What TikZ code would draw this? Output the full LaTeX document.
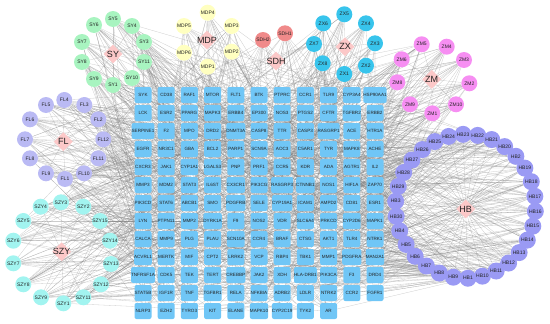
\documentclass[tikz,border=0pt]{standalone}
\usepackage{fontspec}
\setmainfont{Liberation Sans}
\usetikzlibrary{shapes.geometric}
\pgfdeclarelayer{bg}
\pgfsetlayers{bg,main}
\definecolor{tgtc}{HTML}{70C6F6}
\definecolor{syc}{HTML}{A8F4C0}
\definecolor{mdpc}{HTML}{FFFFC0}
\definecolor{sdhc}{HTML}{F08A8A}
\definecolor{zxc}{HTML}{38C4EC}
\definecolor{zmc}{HTML}{F68EF2}
\definecolor{flc}{HTML}{BABAF4}
\definecolor{szyc}{HTML}{A2F4F0}
\definecolor{hbc}{HTML}{9A9AF4}
\definecolor{herbc}{HTML}{FCC8C8}
\definecolor{txtc}{HTML}{222222}
\newcommand\herbedges[2]{%
  \foreach \m in {#2} {%
    \draw[link] (#1) -- (#1\m);
    \foreach \r in {1,...,14} {%
      \pgfmathrandominteger{\tg}{0}{140}%
      \draw[link] (#1\m) -- (g\tg);
    }%
  }%
}
\begin{document}
\begin{tikzpicture}[x=1pt,y=-1pt,
  tgt/.style={rectangle,rounded corners=2pt,fill=tgtc,minimum width=17pt,minimum height=16pt,inner sep=0pt,font=\fontsize{4.6}{5}\selectfont,text=txtc},
  ing/.style={circle,minimum size=16pt,inner sep=0pt,font=\fontsize{5}{5}\selectfont,text=txtc},
  hbn/.style={ing,fill=hbc,minimum size=17pt},
  herb/.style={diamond,fill=herbc,minimum size=19pt,inner sep=0pt},
  herblabel/.style={font=\fontsize{9}{9}\selectfont,text=txtc,inner sep=0pt},
  link/.style={draw=gray,opacity=0.4,line width=0.3pt}]
\useasboundingbox (0,0) rectangle (550,324);
% ---------- targets grid ----------
\foreach \row [count=\j from 0] in {
 {SYK,CD38,RAF1,MTOR,FLT1,BTK,PTPRC,CCR1,TLR9,CYP3A4,HSP90AA1},
 {LCK,ESR2,PPARG,MAPK3,ERBB4,EP300,NOS3,PTGS2,CFTR,TGFBR2,ERBB2},
 {SERPINE1,F2,MPO,DRD2,DNMT3A,CASP8,TTR,CASP3,RASGRP1,ACE,HTR1A},
 {EGFR,NR3C1,GBA,BCL2,PARP1,SCN9A,AOC3,C5AR1,TYR,MAPK8,ACHE},
 {CXCR3,JAK1,CYP1A1,LGALS3,PNP,PRF1,CCR5,KDR,ADA,AGTR1,IL2},
 {MMP3,MDM2,STAT3,IL6ST,CX3CR1,PIK3CG,RASGRP3,CTNNB1,NOS1,HIF1A,ZAP70},
 {PIK3CD,STAT6,ABCB1,SMO,PDGFRB,SELE,CYP19A1,ICAM1,AMPD2,CD81,ESR1},
 {LYN,PTPN11,MMP2,DYRK1A,F9,NOS2,VDR,SLC6A4,PRKCD,CYP2D6,MAPK1},
 {CALCA,MMP9,PLG,PLAU,SCN10A,CCR4,BRAF,CTSG,AKT1,TLR4,NTRK1},
 {ACVRL1,MERTK,MIF,CPT2,LRRK2,VCP,RBP4,TBK1,MMP1,PDGFRA,MAN2A1},
 {TNFRSF1A,CDK5,TEK,TERT,CREBBP,JAK2,XDH,HLA-DRB1,PIK3CA,F3,DRD4},
 {STAT5B,IGF1R,TNF,TGFBR1,RELA,NFKBIA,ADRB2,LDLR,NTRK2,CCR2,FGFR1},
 {NLRP3,EZH2,TYRO3,KIT,ELANE,MAPK10,CYP2C19,TYK2,AR}} {
  \foreach \nm [count=\i from 0] in \row {
    \pgfmathtruncatemacro\k{\j*11+\i}
    \node[tgt] (g\k) at ({143+23.2*\i},{95+18*\j}) {\nm};
  }
}
% ---------- SY ----------
\node[herb] (SY) at (113,54) {}; \node[herblabel] at (SY) {SY};
\foreach \n/\x/\y in {1/113/85,3/144/42,4/132/26,5/113/19,6/94/25,7/82/42,8/82/62,9/94/79,10/132/78,11/144/62}
  \node[ing,fill=syc] (SY\n) at (\x,\y) {SY\n};
% ---------- MDP ----------
\node[herb] (MDP) at (207,40) {}; \node[herblabel] at (MDP) {MDP};
\foreach \n/\x/\y in {1/207.7/66.7,2/231.7/51.7,3/231.7/26,4/207.7/12.7,5/184/26,6/184/52.7}
  \node[ing,fill=mdpc] (MDP\n) at (\x,\y) {MDP\n};
% ---------- SDH ----------
\node[herb] (SDH) at (276,61) {}; \node[herblabel] at (SDH) {SDH};
\node[ing,fill=sdhc] (SDH1) at (285,33.3) {SDH1};
\node[ing,fill=sdhc] (SDH2) at (263,40) {SDH2};
% ---------- ZX ----------
\node[herb] (ZX) at (345,46.7) {}; \node[herblabel] at (ZX) {ZX};
\foreach \n/\x/\y in {1/344.3/74,2/366/65.7,3/375/43.3,4/366/23.3,5/344.3/14.3,6/323.3/23.3,7/314/44,8/322.7/63.3}
  \node[ing,fill=zxc] (ZX\n) at (\x,\y) {ZX\n};
% ---------- ZM ----------
\node[herb] (ZM) at (431.7,79.3) {}; \node[herblabel] at (ZM) {ZM};
\foreach \n/\x/\y in {1/432.3/113.3,2/469.3/83.3,3/464/60,4/446.7/46.7,5/421.7/44.3,6/401.7/59.3,8/397.3/82.3,9/410/104.3,10/456/104.3}
  \node[ing,fill=zmc] (ZM\n) at (\x,\y) {ZM\n};
% ---------- FL ----------
\node[herb] (FL) at (63.3,141.7) {}; \node[herblabel] at (FL) {FL};
\foreach \n/\x/\y in {1/65/179,2/98.3/119.3,3/84.3/105,4/64.3/100,5/46/105,6/30/119.3,7/25/139.3,8/30/158.3,9/46/173.3,10/84/173.3,11/98.3/158.3,12/103.3/139.3}
  \node[ing,fill=flc] (FL\n) at (\x,\y) {FL\n};
% ---------- SZY ----------
\node[herb] (SZY) at (61.7,251.7) {}; \node[herblabel] at (SZY) {SZY};
\foreach \n/\x/\y in {1/63.3/303.3,2/83.3/206.7,3/61/202.3,4/40.7/206.7,5/23.3/221,6/13.3/240.7,7/13.3/263.3,8/23.3/284.3,9/41/297.3,11/83.3/297.3,12/101/284.3,13/111/264,14/110/240.7,15/100/221}
  \node[ing,fill=szyc] (SZY\n) at (\x,\y) {SZY\n};
% ---------- HB ----------
\node[herb] (HB) at (465.7,209) {}; \node[herblabel] at (HB) {HB};
\foreach \h [count=\c from 0] in {23,22,21,20,2,19,18,17,16,15,14,13,12,11,10,1,9,8,7,6,5,4,30,3,29,28,27,26,25,24}
  \node[hbn] (HB\h) at ({465.5+70*cos(92-12*\c)},{206.3-72*sin(92-12*\c)}) {HB\h};
% ---------- edges ----------
\begin{pgfonlayer}{bg}
\pgfmathsetseed{7}
\herbedges{SY}{1,3,4,5,6,7,8,9,10,11}
\herbedges{MDP}{1,2,3,4,5,6}
\herbedges{SDH}{1,2}
\herbedges{ZX}{1,2,3,4,5,6,7,8}
\herbedges{ZM}{1,2,3,4,5,6,8,9,10}
\herbedges{FL}{1,2,3,4,5,6,7,8,9,10,11,12}
\herbedges{SZY}{1,2,3,4,5,6,7,8,9,11,12,13,14,15}
\herbedges{HB}{1,2,3,4,5,6,7,8,9,10,11,12,13,14,15,16,17,18,19,20,21,22,23,24,25,26,27,28,29,30}
\end{pgfonlayer}
\end{tikzpicture}
\end{document}
